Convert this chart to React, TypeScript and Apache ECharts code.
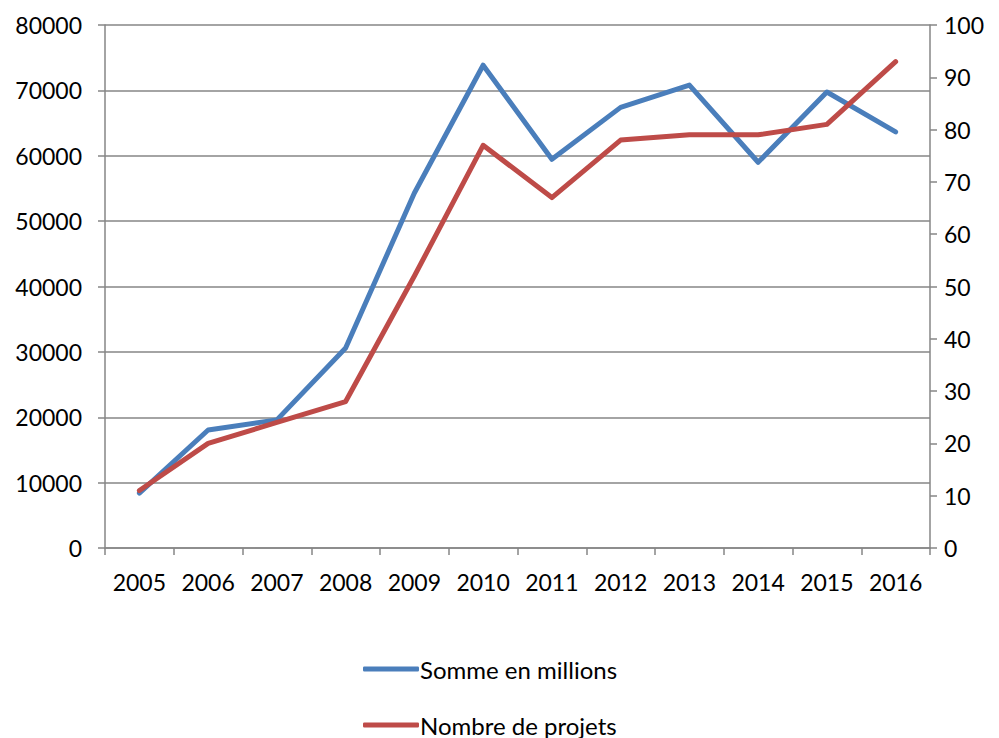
import React, { useEffect, useRef } from "react";
import * as echarts from "echarts";

const years = ["2005", "2006", "2007", "2008", "2009", "2010", "2011", "2012", "2013", "2014", "2015", "2016"];
const somme = [8400, 18050, 19600, 30600, 54300, 73850, 59450, 67400, 70800, 59000, 69750, 63650];
const projets = [11, 20, 24, 28, 52, 77, 67, 78, 79, 79, 81, 93];
const seriesNames = ["Somme en millions", "Nombre de projets"];

const FONT = "Lato, 'Open Sans', sans-serif";
const AXIS = "#868686";

const legendBase = {
  orient: "horizontal",
  left: 358,
  itemWidth: 56,
  itemHeight: 5,
  icon: "roundRect",
  textStyle: { fontSize: 24, color: "#000", fontFamily: FONT, padding: [0, 0, 0, -4] },
};

export default function App() {
  const ref = useRef<HTMLDivElement>(null);
  useEffect(() => {
    const chart = echarts.init(ref.current!, null, { renderer: "svg" });
    chart.setOption({
      animation: false,
      backgroundColor: "#ffffff",
      textStyle: { fontFamily: FONT },
      grid: { left: 105, right: 69, top: 25, bottom: 190, containLabel: false },
      legend: [
        { ...legendBase, top: 652, data: [seriesNames[0]] },
        { ...legendBase, top: 708, data: [seriesNames[1]] },
      ],
      xAxis: {
        type: "category",
        data: years,
        boundaryGap: true,
        axisLine: { lineStyle: { color: AXIS, width: 1.5 } },
        axisTick: { show: true, length: 7, interval: 0, lineStyle: { color: AXIS, width: 1.5 } },
        axisLabel: { color: "#000", fontSize: 23, margin: 22, interval: 0, fontFamily: FONT },
        splitLine: { show: false },
      },
      yAxis: [
        {
          type: "value",
          min: 0,
          max: 80000,
          interval: 10000,
          position: "left",
          axisLine: { show: true, lineStyle: { color: AXIS, width: 1.5 } },
          axisTick: { show: true, length: 7, lineStyle: { color: AXIS, width: 1.5 } },
          axisLabel: {
            color: "#000",
            fontSize: 23,
            margin: 23,
            fontFamily: FONT,
            formatter: (v: number) => String(v),
          },
          splitLine: { show: true, lineStyle: { color: AXIS, width: 1.5 } },
        },
        {
          type: "value",
          min: 0,
          max: 100,
          interval: 10,
          position: "right",
          axisLine: { show: true, lineStyle: { color: AXIS, width: 1.5 } },
          axisTick: { show: true, length: 7, lineStyle: { color: AXIS, width: 1.5 } },
          axisLabel: { color: "#000", fontSize: 23, margin: 14, fontFamily: FONT },
          splitLine: { show: false },
        },
      ],
      series: [
        {
          name: seriesNames[0],
          type: "line",
          yAxisIndex: 0,
          data: somme,
          symbol: "none",
          lineStyle: { color: "#4A7EBB", width: 5, cap: "round", join: "round" },
          itemStyle: { color: "#4A7EBB" },
        },
        {
          name: seriesNames[1],
          type: "line",
          yAxisIndex: 1,
          data: projets,
          symbol: "none",
          lineStyle: { color: "#BE4B48", width: 5, cap: "round", join: "round" },
          itemStyle: { color: "#BE4B48" },
        },
      ],
    });
    return () => chart.dispose();
  }, []);
  return (
    <div
      ref={ref}
      style={{ position: "fixed", left: 0, top: 0, width: 999, height: 738, background: "#fff" }}
    />
  );
}
